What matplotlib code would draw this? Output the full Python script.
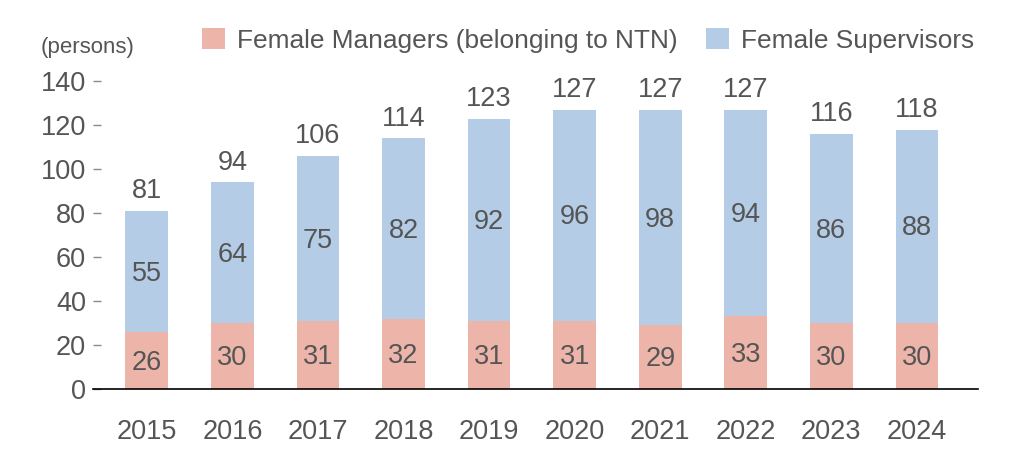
import numpy as np
import matplotlib.pyplot as plt

years = ['2015', '2016', '2017', '2018', '2019', '2020', '2021', '2022', '2023', '2024']
managers = [26, 30, 31, 32, 31, 31, 29, 33, 30, 30]
supervisors = [55, 64, 75, 82, 92, 96, 98, 94, 86, 88]
totals = [81, 94, 106, 114, 123, 127, 127, 127, 116, 118]

c_mgr = '#EDB5A9'
c_sup = '#B5CCE6'
txt = '#555555'

plt.rcParams['font.family'] = ['Liberation Sans', 'DejaVu Sans']

fig = plt.figure(figsize=(10.1, 4.72), dpi=100)
ax = fig.add_axes([0.092, 0.176, 0.876, 0.652])

x = np.arange(len(years))
w = 0.5
ax.bar(x, managers, w, color=c_mgr, label='Female Managers (belonging to NTN)')
ax.bar(x, supervisors, w, bottom=managers, color=c_sup, label='Female Supervisors')

fs = 19.5
for i in range(len(years)):
    ax.text(x[i], managers[i] / 2 - 1, str(managers[i]), ha='center', va='center',
            fontsize=fs, color=txt)
    ax.text(x[i], managers[i] + supervisors[i] / 2 - 1, str(supervisors[i]),
            ha='center', va='center', fontsize=fs, color=txt)
    ax.text(x[i], totals[i] + 3, str(totals[i]), ha='center', va='bottom',
            fontsize=fs, color=txt)

ax.set_xlim(-0.63, 9.71)
ax.set_ylim(0, 140)
ax.set_yticks(range(0, 141, 20))
ax.set_xticks(x)
ax.set_xticklabels(years)
for s in ['top', 'right', 'left']:
    ax.spines[s].set_visible(False)
ax.spines['bottom'].set_color('black')
ax.spines['bottom'].set_linewidth(1.2)
ax.tick_params(axis='x', length=0, pad=22, labelsize=fs, labelcolor=txt)
ax.tick_params(axis='y', direction='in', length=6, width=1, color='#888888',
               pad=5, labelsize=fs, labelcolor=txt)

fig.text(0.04, 0.9, '(persons)', fontsize=16, color=txt, ha='left', va='center')

fig.legend(loc='center right', bbox_to_anchor=(0.975, 0.915), ncol=2, frameon=False,
           fontsize=18.9, labelcolor=txt, handlelength=0.88, handleheight=0.9,
           handletextpad=0.45, columnspacing=1.1, borderaxespad=0)

fig.savefig('out.png', dpi=100)
